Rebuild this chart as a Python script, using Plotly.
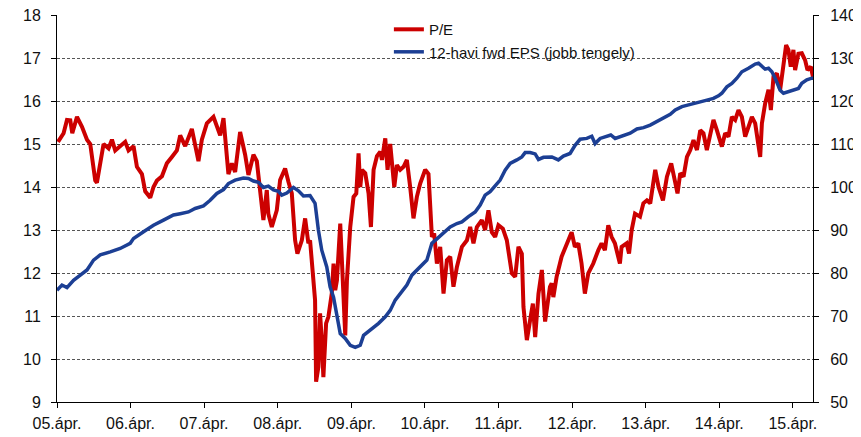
import pandas as pd
import plotly.graph_objects as go

# ---- data (decimal years) ----
pe_years = [2005.26, 2005.336, 2005.382, 2005.427, 2005.454, 2005.518, 2005.586, 2005.654, 2005.698, 2005.766,
            2005.789, 2005.834, 2005.879, 2005.947, 2005.993, 2006.038, 2006.106, 2006.174, 2006.219, 2006.287,
            2006.333, 2006.401, 2006.446, 2006.514, 2006.558, 2006.605, 2006.673, 2006.74, 2006.808, 2006.876,
            2006.921, 2006.989, 2007.08, 2007.17, 2007.216, 2007.284, 2007.374, 2007.465, 2007.51, 2007.577,
            2007.623, 2007.668, 2007.736, 2007.804, 2007.849, 2007.917, 2007.963, 2008.008, 2008.053, 2008.099,
            2008.12, 2008.167, 2008.235, 2008.28, 2008.348, 2008.393, 2008.439, 2008.484, 2008.515, 2008.575,
            2008.62, 2008.664, 2008.687, 2008.755, 2008.769, 2008.8, 2008.823, 2008.846, 2008.868, 2008.905,
            2008.936, 2008.982, 2009.004, 2009.027, 2009.05, 2009.095, 2009.132, 2009.163, 2009.186, 2009.231,
            2009.276, 2009.313, 2009.344, 2009.367, 2009.39, 2009.435, 2009.48, 2009.512, 2009.548, 2009.594,
            2009.639, 2009.662, 2009.707, 2009.738, 2009.774, 2009.829, 2009.865, 2009.91, 2009.955, 2010.001,
            2010.046, 2010.091, 2010.137, 2010.182, 2010.25, 2010.295, 2010.341, 2010.372, 2010.409, 2010.454,
            2010.499, 2010.545, 2010.59, 2010.634, 2010.681, 2010.749, 2010.817, 2010.861, 2010.906, 2010.952,
            2011.02, 2011.065, 2011.11, 2011.156, 2011.201, 2011.246, 2011.306, 2011.36, 2011.428, 2011.473,
            2011.518, 2011.564, 2011.586, 2011.632, 2011.677, 2011.714, 2011.745, 2011.79, 2011.836, 2011.858,
            2011.88, 2011.946, 2011.969, 2011.992, 2012.037, 2012.105, 2012.173, 2012.241, 2012.285, 2012.332,
            2012.376, 2012.421, 2012.467, 2012.535, 2012.603, 2012.648, 2012.693, 2012.739, 2012.784, 2012.829,
            2012.897, 2012.92, 2012.988, 2013.019, 2013.055, 2013.1, 2013.168, 2013.214, 2013.262, 2013.307,
            2013.375, 2013.42, 2013.48, 2013.534, 2013.592, 2013.646, 2013.678, 2013.715, 2013.76, 2013.806,
            2013.851, 2013.895, 2013.942, 2013.987, 2014.031, 2014.077, 2014.122, 2014.167, 2014.213, 2014.258,
            2014.281, 2014.326, 2014.371, 2014.417, 2014.462, 2014.507, 2014.553, 2014.598, 2014.643, 2014.689,
            2014.734, 2014.779, 2014.802, 2014.825, 2014.87, 2014.915, 2014.947, 2014.983, 2015.029, 2015.074,
            2015.119, 2015.155, 2015.186, 2015.218, 2015.254, 2015.277, 2015.322, 2015.368, 2015.413, 2015.445,
            2015.49, 2015.521]
pe_values = [15.05, 15.25, 15.56, 15.55, 15.25, 15.63, 15.4, 15.1, 15.0, 14.15,
             14.1, 14.6, 15.0, 14.9, 15.1, 14.85, 14.95, 15.05, 14.85, 14.95,
             14.47, 14.3, 13.9, 13.75, 14.0, 14.15, 14.25, 14.55, 14.7, 14.85,
             15.2, 14.95, 15.35, 14.6, 15.1, 15.48, 15.63, 15.2, 15.6, 14.3,
             14.55, 14.35, 15.28, 14.75, 14.28, 14.75, 14.6, 14.0, 13.23, 13.93,
             13.38, 13.07, 13.46, 14.16, 14.43, 14.12, 13.85, 12.76, 12.45, 12.76,
             13.27, 12.69, 12.76, 11.37, 9.47, 9.81, 11.06, 10.44, 9.58, 10.83,
             10.98, 11.52, 12.22, 11.6, 11.83, 13.15, 11.76, 10.55, 11.83, 13.07,
             13.77, 13.85, 14.78, 14.0, 14.4, 14.32, 13.85, 13.07, 14.4, 14.72,
             14.82, 14.63, 15.13, 14.4, 15.0, 14.0, 14.51, 14.4, 14.47, 14.63,
             14.0, 13.27, 13.77, 14.08, 14.4, 14.3, 12.84, 12.92, 12.22, 12.61,
             11.52, 12.3, 12.38, 11.68, 12.14, 12.61, 12.76, 13.07, 12.69, 13.07,
             13.23, 13.0, 13.46, 12.95, 12.84, 13.11, 13.03, 12.76, 11.99, 11.91,
             12.61, 12.45, 11.21, 10.44, 10.91, 11.29, 10.51, 11.52, 12.07, 11.6,
             10.87, 11.68, 11.76, 11.44, 11.91, 12.38, 12.69, 12.95, 12.61, 12.69,
             12.22, 11.52, 11.99, 12.22, 12.53, 12.69, 12.53, 13.11, 12.84, 12.69,
             12.22, 12.61, 12.69, 12.45, 13.0, 13.38, 13.31, 13.62, 13.69, 13.62,
             14.4, 14.0, 13.69, 14.24, 14.55, 14.16, 13.85, 14.32, 14.24, 14.7,
             14.86, 15.09, 14.86, 15.32, 15.25, 14.86, 15.17, 15.56, 15.32, 15.09,
             14.94, 15.25, 15.17, 15.63, 15.56, 15.79, 15.63, 15.17, 15.4, 15.63,
             15.48, 15.01, 14.7, 15.48, 15.95, 16.26, 15.79, 16.57, 16.64, 16.26,
             16.8, 17.3, 17.19, 16.8, 17.19, 16.72, 17.1, 17.11, 16.95, 16.72,
             16.8, 16.55]

eps_years = [2005.246, 2005.314, 2005.382, 2005.471, 2005.563, 2005.654, 2005.743, 2005.834, 2005.97, 2006.106,
             2006.242, 2006.287, 2006.423, 2006.558, 2006.694, 2006.83, 2006.921, 2007.034, 2007.125, 2007.238,
             2007.329, 2007.42, 2007.51, 2007.577, 2007.668, 2007.781, 2007.849, 2007.917, 2007.985, 2008.053,
             2008.12, 2008.189, 2008.257, 2008.303, 2008.371, 2008.461, 2008.529, 2008.597, 2008.687, 2008.755,
             2008.8, 2008.846, 2008.914, 2008.959, 2009.004, 2009.05, 2009.095, 2009.163, 2009.231, 2009.299,
             2009.367, 2009.412, 2009.503, 2009.616, 2009.707, 2009.774, 2009.842, 2009.933, 2010.001, 2010.069,
             2010.137, 2010.205, 2010.273, 2010.341, 2010.409, 2010.499, 2010.59, 2010.681, 2010.749, 2010.838,
             2010.929, 2010.997, 2011.065, 2011.133, 2011.201, 2011.269, 2011.337, 2011.405, 2011.496, 2011.564,
             2011.609, 2011.677, 2011.745, 2011.79, 2011.858, 2011.972, 2012.061, 2012.129, 2012.22, 2012.288,
             2012.356, 2012.447, 2012.515, 2012.56, 2012.628, 2012.696, 2012.773, 2012.832, 2012.922, 2013.035,
             2013.126, 2013.216, 2013.307, 2013.398, 2013.488, 2013.579, 2013.647, 2013.738, 2013.828, 2013.919,
             2013.987, 2014.078, 2014.167, 2014.235, 2014.281, 2014.349, 2014.417, 2014.485, 2014.553, 2014.643,
             2014.734, 2014.779, 2014.825, 2014.87, 2014.915, 2014.961, 2015.006, 2015.037, 2015.074, 2015.119,
             2015.186, 2015.254, 2015.322, 2015.368, 2015.436, 2015.504, 2015.528]
eps_values = [76.0, 77.2, 76.6, 78.3, 79.5, 80.7, 83.0, 84.2, 84.9, 85.7,
              86.9, 88.0, 89.6, 91.1, 92.3, 93.5, 93.8, 94.2, 95.0, 95.6,
              96.9, 98.5, 99.4, 100.8, 101.6, 102.1, 102.0, 101.4, 101.1, 99.9,
              100.2, 99.3, 99.0, 98.1, 98.6, 99.9, 99.1, 97.9, 98.0, 96.2,
              90.0, 85.3, 81.4, 76.8, 74.4, 69.8, 65.9, 64.8, 63.2, 62.7,
              63.2, 65.5, 66.7, 68.3, 69.8, 71.3, 73.7, 75.6, 77.2, 79.5,
              80.7, 81.8, 83.0, 86.9, 88.0, 89.2, 90.7, 91.5, 91.9, 93.1,
              94.2, 95.8, 98.1, 98.9, 100.4, 101.6, 103.9, 105.5, 106.3, 107.0,
              108.0, 108.0, 107.7, 106.4, 106.9, 107.0, 106.3, 107.2, 107.8, 109.7,
              111.1, 111.3, 111.8, 110.1, 111.3, 111.7, 112.1, 111.3, 111.8, 112.5,
              113.5, 113.8, 114.4, 115.2, 116.1, 116.9, 117.9, 118.7, 119.1, 119.6,
              119.8, 120.2, 120.6, 121.2, 121.8, 123.3, 124.1, 125.3, 126.8, 127.6,
              128.6, 128.8, 128.0, 127.4, 127.6, 126.8, 125.3, 124.1, 122.5, 121.8,
              122.2, 122.7, 122.9, 124.1, 124.9, 125.3, 125.3]

tick_dates = ["2005-04-01", "2006-04-01", "2007-04-01", "2008-04-01", "2009-04-01", "2010-04-01",
              "2011-04-01", "2012-04-01", "2013-04-01", "2014-04-01", "2015-04-01"]
tick_labels = ["05.ápr.", "06.ápr.", "07.ápr.", "08.ápr.", "09.ápr.", "10.ápr.",
               "11.ápr.", "12.ápr.", "13.ápr.", "14.ápr.", "15.ápr."]


def to_dates(years):
    out = []
    for y in years:
        yr = int(y)
        out.append(pd.Timestamp(yr, 1, 1) + pd.Timedelta(days=(y - yr) * 365.25))
    return out


FONT = "Liberation Sans, Arial, sans-serif"

fig = go.Figure()
fig.add_trace(go.Scatter(x=to_dates(pe_years), y=pe_values, name="P/E", mode="lines",
                         line=dict(color="#CC0000", width=4), yaxis="y"))
fig.add_trace(go.Scatter(x=to_dates(eps_years), y=eps_values, name="12-havi fwd EPS (jobb tengely)",
                         mode="lines", line=dict(color="#1C3F94", width=3.5), yaxis="y2"))

fig.update_layout(
    width=853, height=429,
    margin=dict(l=49, r=48, t=7, b=35, autoexpand=False),
    paper_bgcolor="white", plot_bgcolor="white",
    font=dict(family=FONT, size=16, color="#111"),
    xaxis=dict(type="date", range=["2005-04-01", "2015-07-10"], automargin=False,
               tickvals=tick_dates, ticktext=tick_labels, ticklabelstandoff=2,
               ticklabeloverflow="allow",
               showline=True, linecolor="black", linewidth=1,
               ticks="outside", ticklen=5, tickcolor="black",
               showgrid=False, zeroline=False),
    yaxis=dict(range=[9, 18], dtick=1, tick0=9, automargin=False, ticklabelstandoff=7,
               ticklabeloverflow="allow",
               showline=True, linecolor="black", linewidth=1,
               ticks="outside", ticklen=5, tickcolor="black",
               showgrid=True, gridcolor="#555", gridwidth=1, griddash="3px,2px",
               zeroline=False),
    yaxis2=dict(range=[50, 140], dtick=10, tick0=50, overlaying="y", side="right", automargin=False,
                ticklabelstandoff=8, ticklabeloverflow="allow",
                showline=True, linecolor="black", linewidth=1,
                ticks="outside", ticklen=5, tickcolor="black",
                showgrid=False, zeroline=False),
    legend=dict(x=0.439, y=1.005, xanchor="left", yanchor="top",
                bgcolor="rgba(255,255,255,0)", font=dict(family=FONT, size=15, color="#111"),
                tracegroupgap=0),
    showlegend=True,
)

fig.write_html("out.html")
